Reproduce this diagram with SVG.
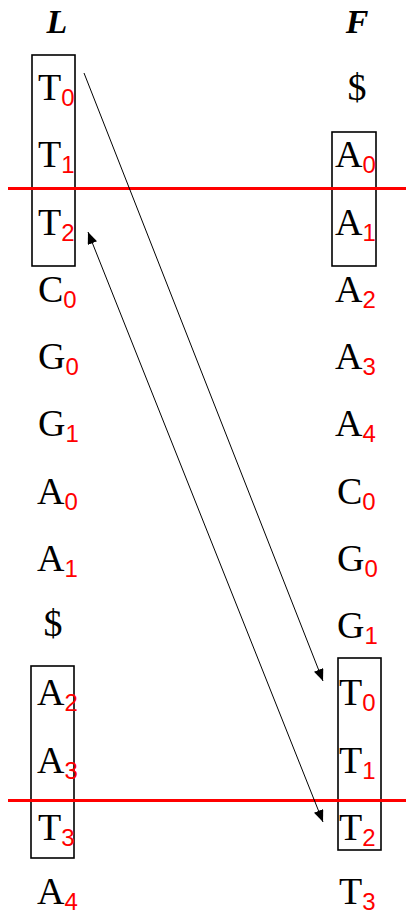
<svg xmlns="http://www.w3.org/2000/svg" width="406" height="916" viewBox="0 0 406 916">
<style>
.m{font-family:"Liberation Serif","Times New Roman",serif;font-size:38px;fill:#000}
.s{font-family:"Liberation Sans",Arial,sans-serif;font-size:24px;fill:#ff0000}
.h{font-family:"Liberation Serif","Times New Roman",serif;font-size:34px;font-weight:bold;font-style:italic;fill:#000;text-anchor:middle}
.d{text-anchor:middle}
.box{fill:none;stroke:#000;stroke-width:1.6}
.red{stroke:#ff0000;stroke-width:3}
.c{stroke:#000;stroke-width:1;fill:none}
</style>
<defs>
<marker id="ah" viewBox="0 0 12 10" refX="12" refY="5" markerWidth="12" markerHeight="10" markerUnits="userSpaceOnUse" orient="auto-start-reverse">
<path d="M0,0 L12,5 L0,10 Z" fill="#000"/>
</marker>
</defs>
<g id="headers">
<text class="h" x="57" y="33">L</text>
<text class="h" x="357" y="33">F</text>
</g>
<g id="boxes">
<rect class="box" x="32" y="55" width="43" height="211"/>
<rect class="box" x="332" y="132" width="44" height="134"/>
<rect class="box" x="31" y="666" width="43" height="192"/>
<rect class="box" x="338" y="658" width="43" height="192"/>
</g>
<g id="dividers">
<line class="red" x1="8" y1="188.5" x2="406" y2="188.5"/>
<line class="red" x1="8" y1="800.5" x2="406" y2="800.5"/>
</g>
<g id="L-column">
<g id="L-T0"><text class="m" x="38" y="100">T<tspan class="s" dy="6">0</tspan></text></g>
<g id="L-T1"><text class="m" x="38" y="167.25">T<tspan class="s" dy="6">1</tspan></text></g>
<g id="L-T2"><text class="m" x="38" y="234.5">T<tspan class="s" dy="6">2</tspan></text></g>
<g id="L-C0"><text class="m" x="38" y="301.75">C<tspan class="s" dy="6">0</tspan></text></g>
<g id="L-G0"><text class="m" x="38" y="369">G<tspan class="s" dy="6">0</tspan></text></g>
<g id="L-G1"><text class="m" x="38" y="436.25">G<tspan class="s" dy="6">1</tspan></text></g>
<g id="L-A0"><text class="m" x="37" y="503.5">A<tspan class="s" dy="6">0</tspan></text></g>
<g id="L-A1"><text class="m" x="37" y="570.75">A<tspan class="s" dy="6">1</tspan></text></g>
<g id="L-dollar"><text class="m d" x="53" y="636">$</text></g>
<g id="L-A2"><text class="m" x="37" y="705.25">A<tspan class="s" dy="6">2</tspan></text></g>
<g id="L-A3"><text class="m" x="37" y="772.5">A<tspan class="s" dy="6">3</tspan></text></g>
<g id="L-T3"><text class="m" x="38" y="839.75">T<tspan class="s" dy="6">3</tspan></text></g>
<g id="L-A4"><text class="m" x="37" y="904">A<tspan class="s" dy="6">4</tspan></text></g>
</g>
<g id="F-column">
<g id="F-dollar"><text class="m d" x="357" y="100">$</text></g>
<g id="F-A0"><text class="m" x="335" y="167.25">A<tspan class="s" dy="6">0</tspan></text></g>
<g id="F-A1"><text class="m" x="335" y="234.5">A<tspan class="s" dy="6">1</tspan></text></g>
<g id="F-A2"><text class="m" x="335" y="301.75">A<tspan class="s" dy="6">2</tspan></text></g>
<g id="F-A3"><text class="m" x="335" y="369">A<tspan class="s" dy="6">3</tspan></text></g>
<g id="F-A4"><text class="m" x="335" y="436.25">A<tspan class="s" dy="6">4</tspan></text></g>
<g id="F-C0"><text class="m" x="337" y="503.5">C<tspan class="s" dy="6">0</tspan></text></g>
<g id="F-G0"><text class="m" x="337" y="570.75">G<tspan class="s" dy="6">0</tspan></text></g>
<g id="F-G1"><text class="m" x="337" y="638">G<tspan class="s" dy="6">1</tspan></text></g>
<g id="F-T0"><text class="m" x="339" y="705.25">T<tspan class="s" dy="6">0</tspan></text></g>
<g id="F-T1"><text class="m" x="339" y="772.5">T<tspan class="s" dy="6">1</tspan></text></g>
<g id="F-T2"><text class="m" x="339" y="839.75">T<tspan class="s" dy="6">2</tspan></text></g>
<g id="F-T3"><text class="m" x="339" y="904">T<tspan class="s" dy="6">3</tspan></text></g>
</g>
<g id="connectors">
<line class="c" x1="84" y1="73" x2="323" y2="681" marker-end="url(#ah)"/>
<line class="c" x1="88" y1="232" x2="323" y2="822" marker-start="url(#ah)" marker-end="url(#ah)"/>
</g>
</svg>
